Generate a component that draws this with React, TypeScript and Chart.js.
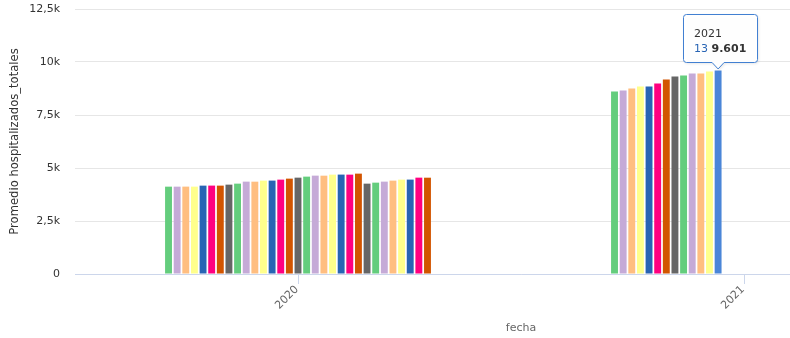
import React, { useEffect, useRef } from 'react';
import { Chart, registerables } from 'chart.js';

Chart.register(...registerables);

// ---- data ----
const years = [2020, 2021];
const tickYears = [2020, 2021];
const seriesNames = [
  '1', '2', '3', '4', '5', '6', '7', '8', '9', '10',
  '11', '12', '13', '14', '15', '16', '17', '18', '19', '20',
  '21', '22', '23', '24', '25', '26', '27', '28', '29', '30', '31',
];
const values2020 = [
  4120, 4120, 4122, 4121, 4168, 4170, 4168, 4215, 4262, 4357,
  4355, 4404, 4406, 4451, 4498, 4545, 4593, 4640, 4638, 4687,
  4689, 4687, 4734, 4262, 4309, 4357, 4404, 4451, 4453, 4545, 4543,
];
const values2021 = [
  8605, 8652, 8746, 8841, 8843, 8982, 9171, 9313, 9360, 9454, 9456, 9549, 9601,
];
const yTicks = [0, 2500, 5000, 7500, 10000, 12500];
const palette = ['#64cd7d', '#c5aad7', '#ffbe80', '#ffff8c', '#2864b4', '#ff0080', '#d25500', '#666666'];
const highlightSeries = 12; // series "13"
const highlightIndex = 1; // 2021
const highlightColor = '#4a86d8';
const tooltipBorder = '#4280d2';

const FONT = '"DejaVu Sans", Verdana, sans-serif';

function fmtThousands(v: number): string {
  return String(v).replace(/\B(?=(\d{3})+(?!\d))/g, '.');
}

function fmtK(v: number): string {
  if (v === 0) return '0';
  return String(v / 1000).replace('.', ',') + 'k';
}

const tooltipPlugin = {
  id: 'fixedTooltip',
  afterDraw(chart: any) {
    const meta = chart.getDatasetMeta(highlightSeries);
    const el = meta && meta.data[highlightIndex];
    if (!el) return;
    const bx = el.x;
    const by = el.y;
    const ctx = chart.ctx as CanvasRenderingContext2D;
    const left = Math.round(bx - 35) + 0.5;
    const right = Math.round(bx + 39) + 0.5;
    const bottom = Math.round(by - 8) + 0.5;
    const top = bottom - 48;
    const tipY = by - 1.5;
    const r = 3;
    ctx.save();
    ctx.beginPath();
    ctx.moveTo(left + r, top);
    ctx.lineTo(right - r, top);
    ctx.arcTo(right, top, right, top + r, r);
    ctx.lineTo(right, bottom - r);
    ctx.arcTo(right, bottom, right - r, bottom, r);
    ctx.lineTo(bx + 6, bottom);
    ctx.lineTo(bx, tipY);
    ctx.lineTo(bx - 6, bottom);
    ctx.lineTo(left + r, bottom);
    ctx.arcTo(left, bottom, left, bottom - r, r);
    ctx.lineTo(left, top + r);
    ctx.arcTo(left, top, left + r, top, r);
    ctx.closePath();
    ctx.shadowColor = 'rgba(0,0,0,0.12)';
    ctx.shadowBlur = 3;
    ctx.shadowOffsetX = 1;
    ctx.shadowOffsetY = 1;
    ctx.fillStyle = 'rgba(255,255,255,0.97)';
    ctx.fill();
    ctx.shadowColor = 'transparent';
    ctx.lineWidth = 1;
    ctx.strokeStyle = tooltipBorder;
    ctx.stroke();

    const tx = left + 10.5;
    ctx.textAlign = 'left';
    ctx.textBaseline = 'alphabetic';
    ctx.font = `11px ${FONT}`;
    ctx.fillStyle = '#333333';
    ctx.fillText(String(years[highlightIndex]), tx, top + 22.5);
    const name = seriesNames[highlightSeries];
    ctx.fillStyle = palette[highlightSeries % palette.length];
    ctx.fillText(name, tx, top + 37);
    const w1 = ctx.measureText(name + ' ').width;
    ctx.font = `bold 11px ${FONT}`;
    ctx.fillStyle = '#333333';
    ctx.fillText(fmtThousands(values2021[highlightSeries]), tx + w1, top + 37);
    ctx.restore();
  },
};

export default function App() {
  const ref = useRef<HTMLCanvasElement>(null);

  useEffect(() => {
    if (!ref.current) return;
    Chart.defaults.font.family = FONT;
    const datasets = seriesNames.map((name, i) => {
      const data: { x: number; y: number }[] = [{ x: years[0], y: values2020[i] }];
      if (i < values2021.length) data.push({ x: years[1], y: values2021[i] });
      const base = palette[i % palette.length];
      return {
        label: name,
        data,
        backgroundColor: (c: any) =>
          c.datasetIndex === highlightSeries && c.dataIndex === highlightIndex ? highlightColor : base,
        borderWidth: 0,
        barPercentage: 0.8,
        categoryPercentage: 0.6,
      };
    });

    const chart = new Chart(ref.current, {
      type: 'bar',
      data: { datasets } as any,
      plugins: [tooltipPlugin],
      options: {
        responsive: false,
        animation: false,
        events: [],
        layout: { padding: { top: 9, right: 13, left: 0, bottom: 0 } },
        plugins: {
          legend: { display: false },
          tooltip: { enabled: false },
        },
        scales: {
          x: {
            type: 'linear',
            min: 2019.5,
            max: 2021.5,
            offset: false,
            z: 1,
            afterBuildTicks: (s: any) => {
              s.ticks = tickYears.map((v) => ({ value: v }));
            },
            afterFit: (s: any) => {
              s.height = 64;
              s.paddingLeft = 0;
              s.paddingRight = 0;
            },
            ticks: {
              minRotation: 45,
              maxRotation: 45,
              autoSkip: false,
              padding: -1,
              labelOffset: -1,
              color: '#666666',
              font: { size: 11, family: FONT },
              callback: (v: any) => String(v),
            },
            grid: {
              offset: false,
              drawOnChartArea: false,
              drawTicks: true,
              tickLength: 10,
              tickColor: '#ccd6eb',
              tickWidth: 1,
            },
            border: { display: true, color: '#ccd6eb', width: 1 },
            title: {
              display: true,
              text: 'fecha',
              color: '#666666',
              font: { size: 11, family: FONT },
              padding: { top: 0, bottom: 3 },
            },
          },
          y: {
            type: 'linear',
            min: 0,
            max: 12500,
            afterBuildTicks: (s: any) => {
              s.ticks = yTicks.map((v) => ({ value: v }));
            },
            afterFit: (s: any) => {
              s.width = 75;
              s.paddingTop = 0;
              s.paddingBottom = 0;
            },
            ticks: {
              padding: 15,
              color: '#333333',
              font: { size: 11, family: FONT },
              callback: (v: any) => fmtK(Number(v)),
            },
            grid: {
              color: '#e6e6e6',
              drawTicks: false,
            },
            border: { display: false },
            title: {
              display: true,
              text: 'Promedio hospitalizados_totales',
              color: '#333333',
              font: { size: 11.6, family: FONT },
              padding: { top: 8, bottom: 0 },
            },
          },
        },
      } as any,
    });
    return () => chart.destroy();
  }, []);

  return (
    <div
      style={{
        position: 'fixed',
        left: 0,
        top: 0,
        width: 790,
        height: 338,
        overflow: 'hidden',
        background: '#ffffff',
      }}
    >
      <canvas ref={ref} width={980} height={338} style={{ display: 'block', width: 980, height: 338 }} />
    </div>
  );
}
